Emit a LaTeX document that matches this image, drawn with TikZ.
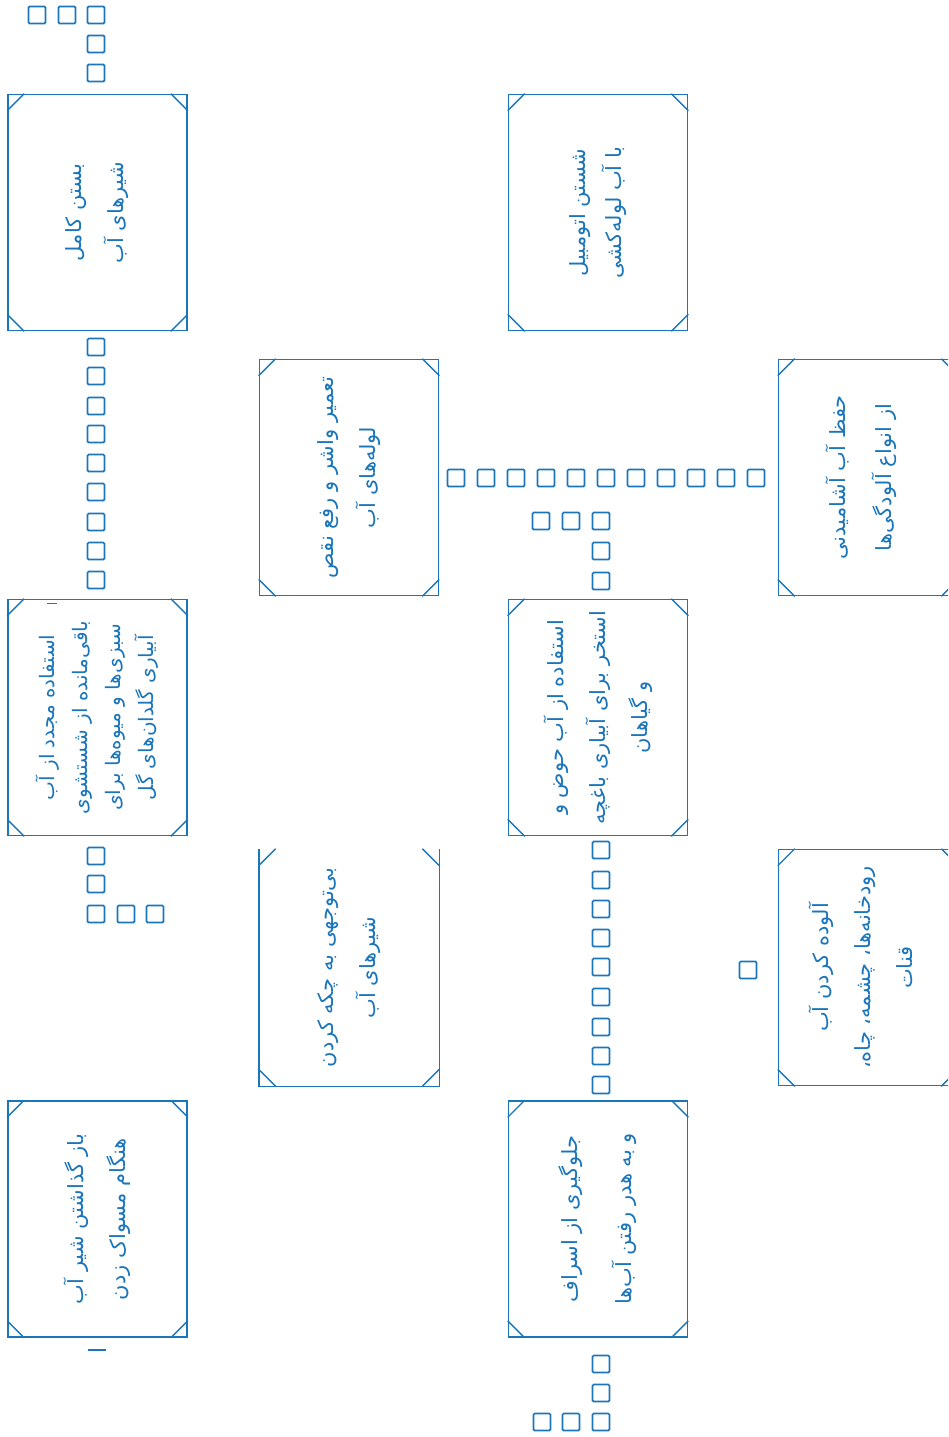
\documentclass[tikz,border=0pt]{standalone}
\usepackage{fontspec}
\TeXXeTstate=1
\newfontfamily\arabicfont[Script=Arabic]{DejaVu Sans}
\definecolor{boxblue}{HTML}{1B75BB}
\tikzset{
  card/.style={draw=boxblue, line width=1.6pt, minimum width=179pt, minimum height=236pt, inner sep=0pt},
  opencard/.style={card, draw=none},
  cornerline/.style={draw=boxblue, line width=1.3pt},
  tofu/.style={draw=boxblue, line width=1.7pt, rounded corners=1.2pt, minimum size=17pt, inner sep=0pt},
  cardtext/.style={text=boxblue, rotate=90, align=center, font=\arabicfont\fontsize{21}{42}\selectfont},
  densetext/.style={cardtext, font=\arabicfont\fontsize{20}{33}\selectfont},
  tick/.style={draw=boxblue, line width=1.5pt},
}
\newcommand\cardcorners[1]{%
  \draw[cornerline] ([yshift=-17pt]#1.north west) -- ([xshift=17pt]#1.north west);
  \draw[cornerline] ([yshift=-17pt]#1.north east) -- ([xshift=-17pt]#1.north east);
  \draw[cornerline] ([yshift=17pt]#1.south west) -- ([xshift=17pt]#1.south west);
  \draw[cornerline] ([yshift=17pt]#1.south east) -- ([xshift=-17pt]#1.south east);
}
\begin{document}
\begin{tikzpicture}[x=1pt,y=-1pt]
\useasboundingbox (0,0) rectangle (948,1437);
\clip (0,0) rectangle (948,1437);

% cards
\node[card] (b1) at (97.5,212.5) {};
\node[card] (b2) at (97.5,717.5) {};
\node[card] (b3) at (97.5,1219) {};
\node[card] (b4) at (349,477.5) {};
\node[opencard] (b5) at (349,967.5) {};
\draw[draw=boxblue, line width=1.6pt] (b5.north west) -- (b5.south west) -- (b5.south east) -- (b5.north east);
\node[card] (b6) at (598,212.5) {};
\node[card] (b7) at (598,717.5) {};
\node[card] (b8) at (598,1219) {};
\node[card] (b9) at (868,477.5) {};
\node[card] (b10) at (868,967.5) {};
\foreach \b in {b1,b2,b3,b4,b5,b6,b7,b8,b9,b10} {\cardcorners{\b}}

% texts
\node[cardtext] (t1) at (b1.center) {\beginR بستن کامل\endR\\\beginR شیرهای آب\endR};
\node[densetext] (t2) at (b2.center) {\beginR استفاده مجدد از آب\endR\\\beginR باقی‌مانده از شستشوی\endR\\\beginR سبزی‌ها و میوه‌ها برای\endR\\\beginR آبیاری گلدان‌های گل\endR};
\node[cardtext] (t3) at (b3.center) {\beginR باز گذاشتن شیر آب\endR\\\beginR هنگام مسواک زدن\endR};
\node[cardtext] (t4) at (b4.center) {\beginR تعمیر واشر و رفع نقص\endR\\\beginR لوله‌های آب\endR};
\node[cardtext] (t5) at (b5.center) {\beginR بی‌توجهی به چکه کردن\endR\\\beginR شیرهای آب\endR};
\node[cardtext, font=\arabicfont\fontsize{21}{36}\selectfont] (t6) at (b6.center) {\beginR شستن اتومبیل\endR\\\beginR با آب لوله‌کشی\endR};
\node[cardtext] (t7) at (b7.center) {\beginR استفاده از آب حوض و\endR\\\beginR استخر برای آبیاری باغچه\endR\\\beginR و گیاهان\endR};
\node[cardtext, font=\arabicfont\fontsize{21}{54}\selectfont] (t8) at (b8.center) {\beginR جلوگیری از اسراف\endR\\\beginR و به هدر رفتن آب‌ها\endR};
\node[cardtext, font=\arabicfont\fontsize{21}{46}\selectfont] (t9) at (861,477.5) {\beginR حفظ آب آشامیدنی\endR\\\beginR از انواع آلودگی‌ها\endR};
\node[cardtext] (t10) at (861,967.5) {\beginR آلوده کردن آب\endR\\\beginR رودخانه‌ها، چشمه، چاه،\endR\\\beginR قنات\endR};

% missing-glyph squares
\foreach \x/\y [count=\i] in {37/15, 67/15, 96/15, 96/44, 96/73}
  \node[tofu] (qa\i) at (\x,\y) {};
\foreach \y [count=\i] in {347,376,406,434,463,492,522,551,580}
  \node[tofu] (qb\i) at (96,\y) {};
\foreach \x/\y [count=\i] in {96/856, 96/884, 96/914, 126/914, 155/914}
  \node[tofu] (qc\i) at (\x,\y) {};
\foreach \k [count=\i] in {0,...,10}
  \node[tofu] (qd\i) at (456+30*\k,478) {};
\foreach \x/\y [count=\i] in {541/521, 571/521, 601/521, 601/551, 601/581}
  \node[tofu] (qe\i) at (\x,\y) {};
\foreach \y [count=\i] in {850,880,909,938,967,997,1027,1056,1085}
  \node[tofu] (qf\i) at (601,\y) {};
\foreach \x/\y [count=\i] in {601/1364, 601/1393, 601/1422, 571/1422, 542/1422}
  \node[tofu] (qg\i) at (\x,\y) {};
\node[tofu] (qh) at (748,970) {};

% small stray marks
\coordinate (m1a) at (88,1350); \coordinate (m1b) at (106,1350);
\draw[tick] (m1a) -- (m1b);
\coordinate (m2a) at (47,603.5); \coordinate (m2b) at (57,603.5);
\draw[tick] (m2a) -- (m2b);
\end{tikzpicture}
\end{document}
